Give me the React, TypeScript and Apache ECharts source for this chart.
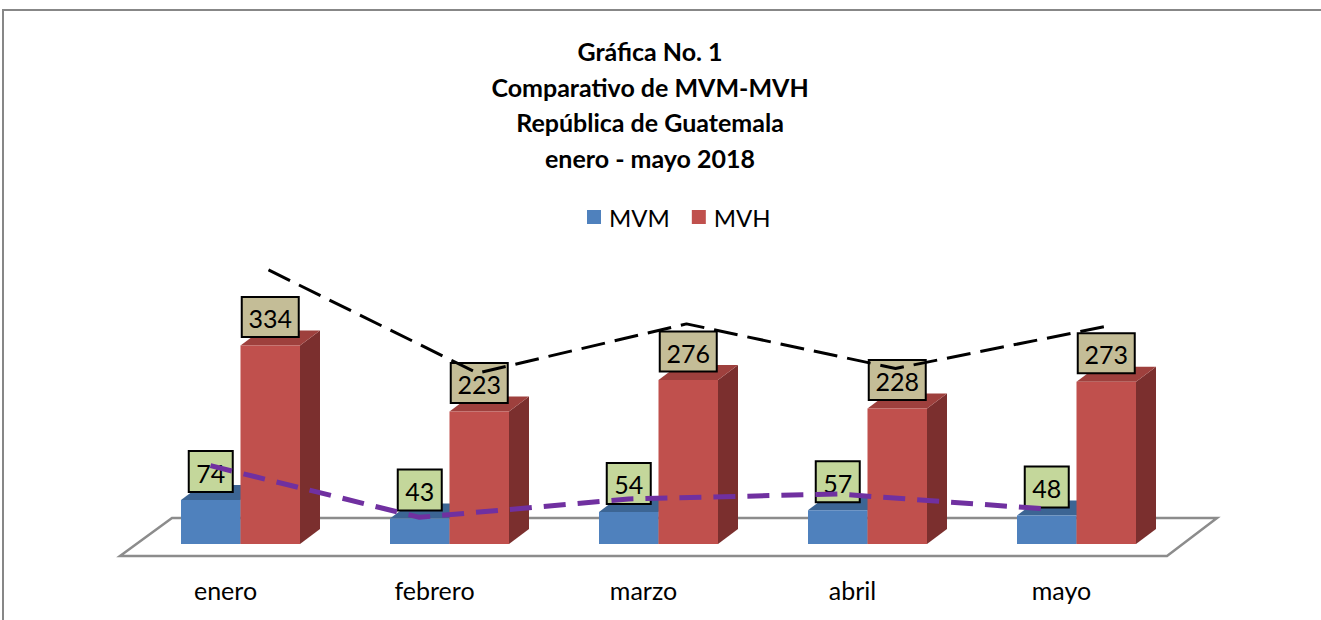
import React, { useEffect, useRef } from "react";
import * as echarts from "echarts";

const categories = ["enero", "febrero", "marzo", "abril", "mayo"];
const mvm = [74, 43, 54, 57, 48];
const mvh = [334, 223, 276, 228, 273];
const titleLines = ["Gráfica No. 1", "Comparativo de MVM-MVH", "República de Guatemala", "enero - mayo 2018"];

const FONT = "Lato, 'Open Sans', sans-serif";
const BAR_W = 59.5;
const DX = 20;
const DY = -15;

function makeRender(side: "left" | "right", front: string, topC: string, sideC: string, boxFill: string, boxW: number, boxH: number) {
  return (params: any, api: any) => {
    const idx = api.value(0);
    const val = api.value(1);
    const top = api.coord([idx, val]);
    const base = api.coord([idx, 0]);
    const cx = top[0];
    const x0 = side === "left" ? cx - BAR_W : cx;
    const x1 = x0 + BAR_W;
    const yT = top[1];
    const yB = base[1];
    const bx = (x0 + x1) / 2;
    const by = yT - 28.5;
    return {
      type: "group",
      children: [
        {
          type: "polygon",
          shape: { points: [[x1, yB], [x1 + DX, yB + DY], [x1 + DX, yT + DY], [x1, yT]] },
          style: { fill: sideC },
        },
        {
          type: "polygon",
          shape: { points: [[x0, yT], [x0 + DX, yT + DY], [x1 + DX, yT + DY], [x1, yT]] },
          style: { fill: topC },
        },
        {
          type: "rect",
          shape: { x: x0, y: yT, width: BAR_W, height: yB - yT },
          style: { fill: front },
        },
        {
          type: "rect",
          shape: { x: bx - boxW / 2, y: by - boxH / 2, width: boxW, height: boxH },
          style: { fill: boxFill, stroke: "#000", lineWidth: 2 },
        },
        {
          type: "text",
          style: {
            text: String(val),
            x: bx,
            y: by + 1,
            align: "center",
            verticalAlign: "middle",
            textAlign: "center",
            textVerticalAlign: "middle",
            font: `25px ${FONT}`,
            fill: "#000",
          },
        },
      ],
    };
  };
}

export default function App() {
  const ref = useRef<HTMLDivElement>(null);
  useEffect(() => {
    document.body.style.margin = "0";
    const chart = echarts.init(ref.current!, null, { renderer: "svg" });
    const option: any = {
      animation: false,
      backgroundColor: "#fff",
      title: {
        text: titleLines.join("\n"),
        left: 650,
        top: 33,
        textAlign: "center",
        padding: 0,
        textStyle: { fontFamily: FONT, fontWeight: "bold", fontSize: 25, lineHeight: 35.7, color: "#000" },
      },
      legend: {
        data: ["MVM", "MVH"],
        left: 587,
        top: 205,
        icon: "rect",
        itemWidth: 14,
        itemHeight: 14,
        itemGap: 22,
        padding: 0,
        textStyle: { fontFamily: FONT, fontSize: 24, color: "#000", padding: [0, 0, 0, 3] },
      },
      graphic: [
        {
          type: "rect",
          z: -10,
          shape: { x: 3, y: 10, width: 1500, height: 800 },
          style: { fill: "none", stroke: "#878787", lineWidth: 2 },
        },
        {
          type: "polygon",
          z: -5,
          shape: { points: [[120, 556], [1167, 556], [1217, 518], [172, 518]] },
          style: { fill: "#fff", stroke: "#8c8c8c", lineWidth: 2.5 },
        },
      ],
      grid: [
        { left: 136, width: 1045, top: 306.4, bottom: 76 },
        { left: 164, width: 1045, top: 208.6, height: 371.8 },
        { left: 106, width: 1045, top: 422.4, height: 166.5 },
      ],
      xAxis: [
        {
          type: "category",
          data: categories,
          gridIndex: 0,
          axisLine: { show: false },
          axisTick: { show: false },
          axisLabel: { fontFamily: FONT, fontSize: 25, color: "#000", margin: 33, padding: [0, 30, 0, 0] },
        },
        { type: "category", data: categories, gridIndex: 1, show: false },
        { type: "category", data: categories, gridIndex: 2, show: false },
      ],
      yAxis: [
        { type: "value", min: 0, max: 400, gridIndex: 0, show: false },
        { type: "value", min: 0, max: 400, gridIndex: 1, show: false },
        { type: "value", min: 0, max: 100, gridIndex: 2, show: false },
      ],
      series: [
        {
          name: "MVM",
          type: "custom",
          xAxisIndex: 0,
          yAxisIndex: 0,
          itemStyle: { color: "#4F81BD" },
          renderItem: makeRender("left", "#4F81BD", "#3C6594", "#2F4F78", "#C4D79B", 44, 41),
          data: mvm.map((v, i) => [i, v]),
          z: 2,
        },
        {
          name: "MVH",
          type: "custom",
          xAxisIndex: 0,
          yAxisIndex: 0,
          itemStyle: { color: "#C0504D" },
          renderItem: makeRender("right", "#C0504D", "#9E403D", "#7B2F2E", "#C4BD97", 57, 40),
          data: mvh.map((v, i) => [i, v]),
          z: 3,
        },
        {
          name: "MVH tendencia",
          type: "line",
          xAxisIndex: 1,
          yAxisIndex: 1,
          data: mvh,
          symbol: "none",
          clip: false,
          z: 10,
          lineStyle: { color: "#000", width: 3, type: [24, 10] },
        },
        {
          name: "MVM tendencia",
          type: "line",
          xAxisIndex: 2,
          yAxisIndex: 2,
          data: mvm,
          symbol: "none",
          clip: false,
          z: 10,
          lineStyle: { color: "#7030A0", width: 5, type: [22, 12] },
        },
      ],
    };
    chart.setOption(option);
    return () => chart.dispose();
  }, []);
  return <div ref={ref} style={{ width: 1321, height: 620 }} />;
}
